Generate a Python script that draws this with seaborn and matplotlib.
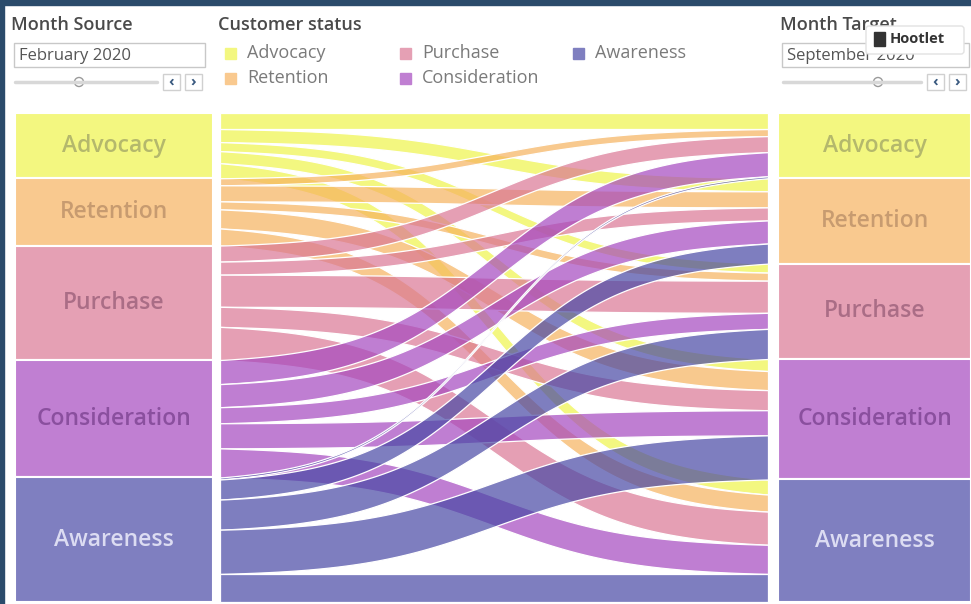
import numpy as np
import matplotlib
matplotlib.use("Agg")
import matplotlib.pyplot as plt
from matplotlib.patches import Rectangle, Circle, FancyBboxPatch
import seaborn as sns

# Customer status stages (source = February 2020, target = September 2020)
stages = ["Advocacy", "Retention", "Purchase", "Consideration", "Awareness"]
stage_colors = ["#F3F780", "#F9C98F", "#E5A0B4", "#C07FD2", "#7F7FC0"]
label_colors = ["#B4B86C", "#C79B70", "#AA6D86", "#8A4F9E", "#DCDCF2"]

# flows[i][j] = customers moving from source stage i to target stage j
flow_advocacy = [16, 13, 9, 12, 15]
flow_retention = [7, 16, 8, 19, 17]
flow_purchase = [16, 13, 32, 20, 33]
flow_consideration = [24, 23, 16, 25, 29]
flow_awareness = [2, 20, 30, 44, 28]

legend_order = ["Advocacy", "Purchase", "Awareness", "Retention", "Consideration"]
month_source = "February 2020"
month_target = "September 2020"

flows = np.array([flow_advocacy, flow_retention, flow_purchase,
                  flow_consideration, flow_awareness], dtype=float)

sns.set_theme(style="white")
plt.rcParams["font.family"] = ["Open Sans", "DejaVu Sans"]

W, H = 971, 604
fig = plt.figure(figsize=(W / 100, H / 100), dpi=100)
fig.patch.set_facecolor("white")

# overlay in pixel units for the dashboard chrome
ui = fig.add_axes([0, 0, 1, 1])
ui.set_xlim(0, W)
ui.set_ylim(H, 0)
ui.axis("off")

top_px, bot_px = 113, 602
ax_h = (bot_px - top_px) / H
ax_y = (H - bot_px) / H
ax_left = fig.add_axes([15 / W, ax_y, 198 / W, ax_h])
ax_flow = fig.add_axes([220 / W, ax_y, 548 / W, ax_h])
ax_right = fig.add_axes([778 / W, ax_y, 193 / W, ax_h])

total = flows.sum()
src_tot = flows.sum(axis=1)
tgt_tot = flows.sum(axis=0)

for ax in (ax_left, ax_flow, ax_right):
    ax.set_ylim(total, 0)
    ax.axis("off")

# node columns as stacked bars
for ax, sizes in ((ax_left, src_tot), (ax_right, tgt_tot)):
    bottoms = np.concatenate([[0], np.cumsum(sizes)[:-1]])
    ax.set_xlim(-0.5, 0.5)
    ax.bar(0, sizes, bottom=bottoms, width=1.0, color=stage_colors,
           edgecolor="white", linewidth=1.5)
    for k, name in enumerate(stages):
        ax.text(0, bottoms[k] + sizes[k] / 2, name, ha="center", va="center",
                fontsize=16.5, color=label_colors[k], fontweight="semibold")

# flow ribbons
alpha = 0.7
ax_flow.set_xlim(0, 1)
t = np.linspace(0, 1, 300)
k = 8.0
s = 1 / (1 + np.exp(-k * (t - 0.5)))
s = (s - s[0]) / (s[-1] - s[0])

src_start = np.concatenate([[0], np.cumsum(src_tot)[:-1]])
tgt_start = np.concatenate([[0], np.cumsum(tgt_tot)[:-1]])
src_off = src_start[:, None] + np.cumsum(flows, axis=1) - flows
tgt_off = tgt_start[None, :] + np.cumsum(flows, axis=0) - flows

for i in range(len(stages)):
    base = np.array(matplotlib.colors.to_rgb(stage_colors[i]))
    rgb = np.clip((base - (1 - alpha)) / alpha, 0, 1)
    for j in range(len(stages)):
        v = flows[i, j]
        if v <= 0:
            continue
        y0, y1 = src_off[i, j], tgt_off[i, j]
        top = y0 + (y1 - y0) * s
        ax_flow.fill_between(t, top, top + v, facecolor=(*rgb, alpha),
                             edgecolor="white", linewidth=0.9)

# ---- dashboard chrome ----
ui.add_patch(Rectangle((0, 0), W, 5, color="#2B4B6B", zorder=5))
ui.add_patch(Rectangle((0, 0), 4, H, color="#2B4B6B", zorder=5))

title_kw = dict(fontsize=13, color="#4A4A4A", fontweight="semibold", va="center")
ui.text(11, 25, "Month Source", **title_kw)
ui.text(218, 25, "Customer status", **title_kw)
ui.text(780, 25, "Month Target", **title_kw)


def month_control(x0, x1, knob, label):
    ui.add_patch(Rectangle((x0, 43), x1 - x0, 24, facecolor="white",
                           edgecolor="#C8C8C8", linewidth=1))
    ui.text(x0 + 5, 55.5, label, fontsize=12, color="#555555", va="center")
    ui.plot([x0 + 1, x1 - 48], [82, 82], color="#D8D8D8", lw=2.5,
            solid_capstyle="round")
    ui.add_patch(Circle((knob, 82), 4.5, facecolor="white",
                        edgecolor="#9A9A9A", lw=1))
    for bx, ch in ((x1 - 42, "\u2039"), (x1 - 20, "\u203A")):
        ui.add_patch(Rectangle((bx, 74), 17, 16, facecolor="white",
                               edgecolor="#D0D0D0", lw=1))
        ui.text(bx + 8.5, 81.5, ch, fontsize=11, color="#3A5A80",
                ha="center", va="center", fontweight="bold")


month_control(14, 205, 79, month_source)
month_control(782, 969, 878, month_target)

# legend
leg_pos = [(225, 53), (400, 53), (573, 53), (225, 78), (400, 78)]
for (lx, ly), name in zip(leg_pos, legend_order):
    c = stage_colors[stages.index(name)]
    ui.add_patch(Rectangle((lx, ly - 5.5), 11, 11, color=c))
    ui.text(lx + 22, ly, name, fontsize=13, color="#7A7A7A", va="center")

# browser extension popup covering part of the target filter
ui.add_patch(FancyBboxPatch((866, 26), 98, 28, boxstyle="round,pad=0,rounding_size=3",
                            facecolor="white", edgecolor="#E2E2E2", lw=1, zorder=6))
ui.add_patch(Rectangle((874, 32), 11, 14, color="#333333", zorder=7))
ui.text(890, 39, "Hootlet", fontsize=10.5, color="#333333", fontweight="bold",
        va="center", zorder=7)

fig.savefig("out.png", dpi=100, facecolor="white")
